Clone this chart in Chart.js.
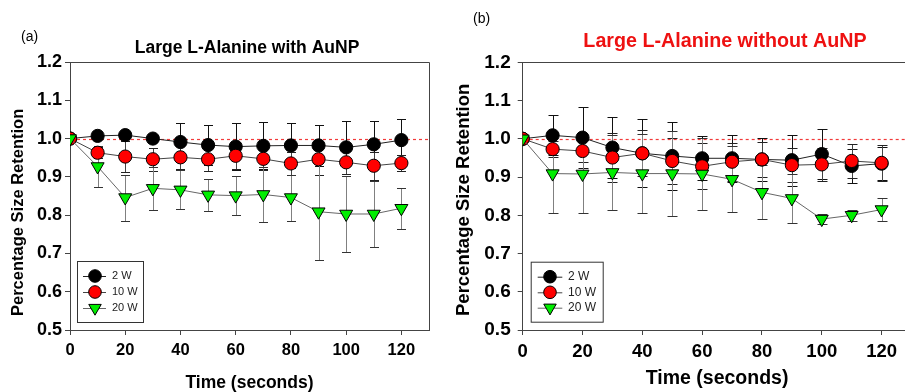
<!DOCTYPE html>
<html><head><meta charset="utf-8">
<script src="https://cdn.jsdelivr.net/npm/chart.js@4.4.0/dist/chart.umd.min.js"></script>
<style>
html,body{margin:0;padding:0;background:#fff;overflow:hidden;width:905px;height:392px;position:relative}
#wa{position:absolute;left:0;top:0;width:445px;height:392px}
#wb{position:absolute;left:445px;top:0;width:475px;height:392px}
</style></head><body>
<div id="wa"><canvas id="ca" width="445" height="392"></canvas></div>
<div id="wb"><canvas id="cb" width="475" height="392"></canvas></div>
<script>
// ---------- data ----------
const times = [0, 10, 20, 30, 40, 50, 60, 70, 80, 90, 100, 110, 120];
const seriesNames = ['2 W', '10 W', '20 W'];
const yTicks = [0.5, 0.6, 0.7, 0.8, 0.9, 1.0, 1.1, 1.2];
const xTicks = [0, 20, 40, 60, 80, 100, 120];
const titleA = 'Large L-Alanine with AuNP';
const titleB = 'Large L-Alanine without AuNP';
const xTitle = 'Time (seconds)';
const yTitle = 'Percentage Size Retention';

// panel (a): with AuNP
const a2W    = [1.000, 1.007, 1.009, 1.000, 0.991, 0.983, 0.979, 0.981, 0.982, 0.982, 0.977, 0.985, 0.996];
const a2Werr = [0, 0.008, 0.010, 0.010, 0.050, 0.053, 0.062, 0.061, 0.058, 0.053, 0.070, 0.062, 0.055];
const a10W    = [1.000, 0.963, 0.953, 0.946, 0.951, 0.946, 0.955, 0.947, 0.935, 0.946, 0.938, 0.929, 0.936];
const a10Werr = [0, 0.015, 0.040, 0.030, 0.030, 0.030, 0.035, 0.028, 0.030, 0.040, 0.030, 0.036, 0.020];
const a20W    = [1.000, 0.927, 0.846, 0.870, 0.866, 0.853, 0.851, 0.854, 0.846, 0.809, 0.803, 0.803, 0.818];
const a20Werr = [0, 0.054, 0.060, 0.056, 0.051, 0.041, 0.051, 0.071, 0.060, 0.126, 0.098, 0.087, 0.053];

// panel (b): without AuNP
const b2W    = [1.000, 1.009, 1.003, 0.977, 0.962, 0.955, 0.949, 0.949, 0.946, 0.944, 0.960, 0.929, 0.935];
const b2Werr = [0, 0.052, 0.079, 0.080, 0.089, 0.090, 0.058, 0.061, 0.056, 0.067, 0.065, 0.045, 0.044];
const b10W    = [1.000, 0.973, 0.968, 0.951, 0.962, 0.942, 0.928, 0.940, 0.946, 0.931, 0.933, 0.942, 0.937];
const b10Werr = [0, 0.020, 0.030, 0.063, 0.060, 0.060, 0.060, 0.050, 0.045, 0.045, 0.043, 0.045, 0.047];
const b20W    = [1.000, 0.909, 0.908, 0.912, 0.909, 0.909, 0.908, 0.894, 0.860, 0.844, 0.790, 0.800, 0.815];
const b20Werr = [0, 0.102, 0.101, 0.098, 0.104, 0.111, 0.094, 0.086, 0.071, 0.065, 0.013, 0.014, 0.030];

// ---------- helpers ----------
const FONT = "'Liberation Sans', Arial, Helvetica, sans-serif";
const pts = (vals) => times.map((t, i) => ({x: t, y: vals[i]}));

const styles = [
  {fill: '#000000', line: '#222222', err: '#111111', cap: '#111111', pointStyle: 'circle', rotation: 0, radius: 6.6},
  {fill: '#ff0000', line: '#444444', err: '#444444', cap: '#222222', pointStyle: 'circle', rotation: 0, radius: 6.6},
  {fill: '#00ee00', line: '#666666', err: '#808080', cap: '#333333', pointStyle: 'triangle', rotation: 180, radius: 7.5}
];

function makeDatasets(values, errs) {
  return values.map((v, k) => ({
    label: seriesNames[k],
    data: pts(v),
    errors: errs[k],
    errColor: styles[k].err,
    capColor: styles[k].cap,
    showLine: true,
    borderColor: styles[k].line,
    borderWidth: 1,
    backgroundColor: styles[k].fill,
    pointBackgroundColor: styles[k].fill,
    pointBorderColor: '#000',
    pointBorderWidth: 1,
    pointStyle: styles[k].pointStyle,
    pointRotation: styles[k].rotation,
    pointRadius: styles[k].radius,
    pointHoverRadius: styles[k].radius,
    order: 2 - k
  }));
}

const decorPlugin = {
  id: 'decor',
  beforeDatasetsDraw(chart) {
    const o = chart.options.plugins.decor;
    const ctx = chart.ctx, ca = chart.chartArea, ys = chart.scales.y;
    ctx.save();
    // frame top/right
    ctx.strokeStyle = '#444'; ctx.lineWidth = 1;
    ctx.beginPath();
    ctx.moveTo(Math.round(ca.left) , Math.round(ca.top) + 0.5);
    ctx.lineTo(Math.round(ca.right) + 0.5, Math.round(ca.top) + 0.5);
    ctx.lineTo(Math.round(ca.right) + 0.5, Math.round(ca.bottom));
    ctx.stroke();
    // reference line at 1.0
    const yr = Math.round(ys.getPixelForValue(1.0)) + 0.5;
    ctx.strokeStyle = '#f23a3a'; ctx.lineWidth = 1.2; ctx.setLineDash([3, 3]);
    ctx.beginPath(); ctx.moveTo(ca.left + 1, yr); ctx.lineTo(ca.right, yr); ctx.stroke();
    ctx.setLineDash([]); ctx.lineWidth = 1;
    // error bars
    const cap = o.cap;
    chart.data.datasets.forEach((ds, i) => {
      const meta = chart.getDatasetMeta(i);
      meta.data.forEach((pt, j) => {
        const e = ds.errors[j];
        if (!e) return;
        const v = ds.data[j].y;
        const x = Math.round(pt.x) + 0.5;
        const yt = Math.round(ys.getPixelForValue(v + e)) + 0.5;
        const yb = Math.round(ys.getPixelForValue(v - e)) + 0.5;
        ctx.strokeStyle = ds.errColor;
        ctx.beginPath(); ctx.moveTo(x, yt); ctx.lineTo(x, yb); ctx.stroke();
        ctx.strokeStyle = ds.capColor;
        ctx.beginPath();
        ctx.moveTo(x - cap, yt); ctx.lineTo(x + cap, yt);
        ctx.moveTo(x - cap, yb); ctx.lineTo(x + cap, yb);
        ctx.stroke();
      });
    });
    ctx.restore();
  },
  afterDraw(chart) {
    const o = chart.options.plugins.decor;
    const ctx = chart.ctx;
    ctx.save();
    // panel label and title
    ctx.fillStyle = '#000';
    ctx.font = `normal ${o.tagSize}px ${FONT}`;
    ctx.textAlign = 'left'; ctx.textBaseline = 'middle';
    ctx.fillText(o.tag, o.tagX, o.tagY);
    ctx.fillStyle = o.titleColor;
    ctx.font = `bold ${o.titleSize}px ${FONT}`;
    ctx.textAlign = 'center';
    ctx.fillText(o.title, o.titleX, o.titleY);
    // y-axis title
    ctx.save();
    ctx.translate(o.yTitleX, o.yTitleBottom);
    ctx.rotate(-Math.PI / 2);
    ctx.fillStyle = '#000';
    ctx.font = `bold ${o.yTitleSize}px ${FONT}`;
    ctx.textAlign = 'left'; ctx.textBaseline = 'middle';
    ctx.fillText(yTitle, 0, 0);
    ctx.restore();
    // legend
    const L = o.legend;
    ctx.strokeStyle = '#333'; ctx.lineWidth = 1;
    ctx.strokeRect(L.x + 0.5, L.y + 0.5, L.w, L.h);
    chart.data.datasets.forEach((ds, k) => {
      const yy = L.rows[k];
      ctx.strokeStyle = ds.borderColor; ctx.lineWidth = 1;
      ctx.beginPath(); ctx.moveTo(L.lx0, yy + 0.5); ctx.lineTo(L.lx1, yy + 0.5); ctx.stroke();
      ctx.fillStyle = ds.pointBackgroundColor; ctx.strokeStyle = '#000'; ctx.lineWidth = 1;
      Chart.helpers.drawPoint(ctx, {pointStyle: ds.pointStyle, rotation: ds.pointRotation, radius: ds.pointRadius - 0.3, borderWidth: 1}, L.mx, yy);
      ctx.fillStyle = '#222';
      ctx.font = `normal ${L.fontSize}px ${FONT}`;
      ctx.textAlign = 'left'; ctx.textBaseline = 'middle';
      ctx.fillText(ds.label, L.tx, yy);
    });
    ctx.restore();
  }
};

function makeChart(id, datasets, cfg) {
  return new Chart(document.getElementById(id), {
    type: 'scatter',
    data: {datasets},
    options: {
      responsive: false,
      animation: false,
      devicePixelRatio: 1,
      layout: {padding: {left: 0, right: cfg.padRight, top: cfg.top, bottom: 0}},
      plugins: {
        legend: {display: false},
        tooltip: {enabled: false},
        decor: cfg.decor
      },
      scales: {
        x: {
          type: 'linear', min: 0, max: 130,
          afterFit: (s) => { s.height = 392 - cfg.bottom; },
          afterBuildTicks: (s) => { s.ticks = xTicks.map(v => ({value: v})); },
          ticks: {includeBounds: false, stepSize: 20, color: '#000', padding: cfg.xTickPad,
                  font: {family: FONT, size: cfg.xTickSize, weight: 'bold'}, maxRotation: 0},
          grid: {drawOnChartArea: false, drawTicks: true, tickLength: 5, color: '#444'},
          border: {display: true, color: '#444', width: 1},
          title: {display: true, text: xTitle, color: '#000',
                  font: {family: FONT, size: cfg.xTitleSize, weight: 'bold', lineHeight: 1.0},
                  padding: {top: 0, bottom: cfg.xTitlePad}}
        },
        y: {
          type: 'linear', min: 0.5, max: 1.2,
          afterFit: (s) => { s.width = cfg.left; },
          afterBuildTicks: (s) => { s.ticks = yTicks.map(v => ({value: v})); },
          ticks: {color: '#000', padding: cfg.yTickPad, callback: (v) => Number(v).toFixed(1),
                  font: {family: FONT, size: cfg.yTickSize, weight: 'bold'}},
          grid: {drawOnChartArea: false, drawTicks: true, tickLength: 5, color: '#444'},
          border: {display: true, color: '#444', width: 1},
          title: {display: false}
        }
      }
    },
    plugins: [decorPlugin]
  });
}

makeChart('ca', makeDatasets([a2W, a10W, a20W], [a2Werr, a10Werr, a20Werr]), {
  left: 70, padRight: 16, top: 62, bottom: 330,
  xTickSize: 16.5, yTickSize: 18, xTickPad: 6, yTickPad: 3, xTitleSize: 17.5, xTitlePad: 0,
  decor: {
    cap: 4.5, tag: '(a)', tagSize: 14, tagX: 21, tagY: 37,
    title: titleA, titleColor: '#000', titleSize: 17.5, titleX: 247, titleY: 48,
    yTitleX: 18, yTitleBottom: 316, yTitleSize: 16.5,
    legend: {x: 77, y: 261, w: 66, h: 61, rows: [276, 292, 308], lx0: 83, lx1: 106, mx: 95, tx: 112, fontSize: 11}
  }
});

makeChart('cb', makeDatasets([b2W, b10W, b20W], [b2Werr, b10Werr, b20Werr]), {
  left: 77.7, padRight: 3, top: 62.3, bottom: 330,
  xTickSize: 18.5, yTickSize: 19, xTickPad: 6, yTickPad: 7, xTitleSize: 19.5, xTitlePad: 3.5,
  decor: {
    cap: 5, tag: '(b)', tagSize: 14, tagX: 28, tagY: 19,
    title: titleB, titleColor: '#ee1111', titleSize: 19.7, titleX: 280, titleY: 42,
    yTitleX: 19, yTitleBottom: 316, yTitleSize: 18.5,
    legend: {x: 85.7, y: 261.7, w: 72, h: 60, rows: [276.7, 292.3, 307.7], lx0: 92.7, lx1: 117.3, mx: 105, tx: 123, fontSize: 12}
  }
});
</script>
</body></html>
